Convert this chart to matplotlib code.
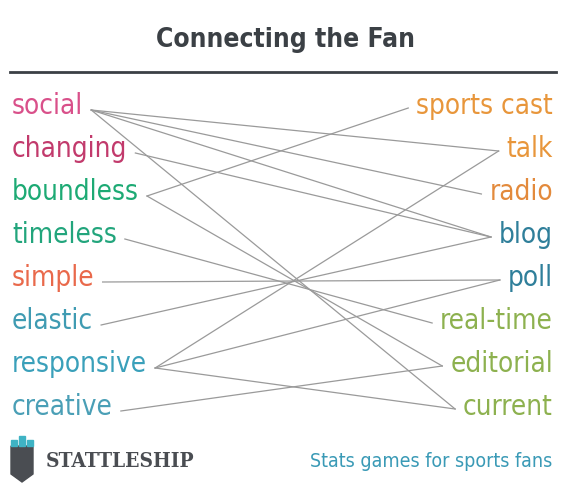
import matplotlib
matplotlib.use("Agg")
import matplotlib.pyplot as plt
from matplotlib.patches import Polygon, Rectangle

# data
left_words = ["social", "changing", "boundless", "timeless", "simple", "elastic", "responsive", "creative"]
left_colors = ["#d9508a", "#c23a6c", "#1daa74", "#22a57c", "#e9694b", "#3f9bb2", "#3aa0ba", "#4a9fb6"]
right_words = ["sports cast", "talk", "radio", "blog", "poll", "real-time", "editorial", "current"]
right_colors = ["#e8963b", "#e8963b", "#e38a3c", "#2f7f9a", "#2f7f9a", "#8db14f", "#8db14f", "#8db14f"]
links = [("social", "talk"), ("social", "radio"), ("social", "blog"), ("social", "current"),
         ("changing", "blog"), ("boundless", "sports cast"), ("boundless", "editorial"),
         ("timeless", "real-time"), ("simple", "poll"), ("elastic", "blog"),
         ("responsive", "talk"), ("responsive", "poll"), ("responsive", "current"),
         ("creative", "editorial")]

font = ["DejaVu Sans"]

fig = plt.figure(figsize=(5.7, 4.9), dpi=100)
ax = fig.add_axes([0, 0, 1, 1])
ax.set_xlim(0, 570)
ax.set_ylim(490, 0)
ax.axis("off")

ax.text(285, 40, "Connecting the Fan", ha="center", va="center", fontsize=19,
        fontweight="bold", fontstretch="condensed", color="#3b4045", family=font)
ax.plot([10, 556], [72, 72], color="#3b4045", lw=2)

y0, dy = 106, 43
fig.canvas.draw()
r = fig.canvas.get_renderer()
inv = ax.transData.inverted()
left_end = {}
right_start = {}
for i, (w, c) in enumerate(zip(left_words, left_colors)):
    t = ax.text(12, y0 + i * dy, w, ha="left", va="center", fontsize=20, fontstretch="condensed",
                color=c, family=font)
    bb = t.get_window_extent(r)
    left_end[w] = (inv.transform((bb.x1, 0))[0] + 8, y0 + i * dy)
for i, (w, c) in enumerate(zip(right_words, right_colors)):
    t = ax.text(553, y0 + i * dy, w, ha="right", va="center", fontsize=20, fontstretch="condensed",
                color=c, family=font)
    bb = t.get_window_extent(r)
    right_start[w] = (inv.transform((bb.x0, 0))[0] - 8, y0 + i * dy)

for a, b in links:
    (x1, y1), (x2, y2) = left_end[a], right_start[b]
    ax.plot([x1, x2], [y1 + 4, y2 + 2], color="#9a9a9a", lw=0.9)

# logo
ax.add_patch(Polygon([(11, 446), (33, 446), (33, 474), (22, 482), (11, 474)], closed=True, color="#4a4d52"))
for k, h in enumerate([6, 10, 6]):
    ax.add_patch(Rectangle((11 + k * 8, 446 - h), 6, h, color="#3fb3c4"))
ax.text(46, 461, "STATTLESHIP", ha="left", va="center", fontsize=15, fontweight="bold",
        color="#4a4d52", family=["DejaVu Serif"], fontstretch="condensed")
ax.text(552, 461, "Stats games for sports fans", ha="right", va="center", fontsize=14,
        fontstretch="condensed", color="#3a9ab6", family=font)

fig.savefig("out.png", dpi=100)
